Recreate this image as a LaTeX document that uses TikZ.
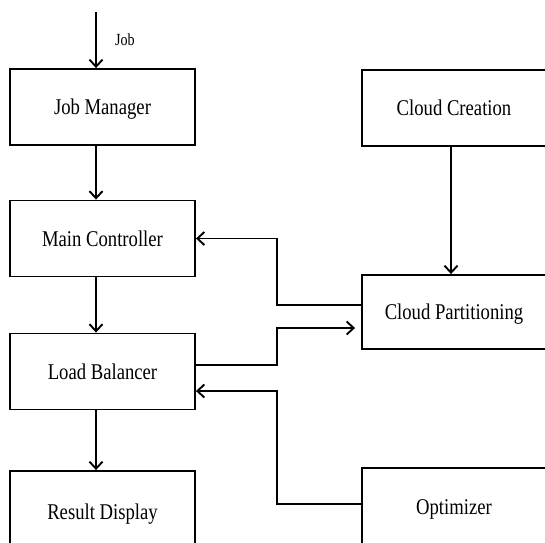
\documentclass[tikz,border=0pt]{standalone}
\usepackage{fontspec}
\setmainfont{Liberation Serif}[FakeStretch=0.83]
\usetikzlibrary{arrows.meta}
\tikzset{
  block/.style = {draw, line width=1.9pt, rectangle, minimum height = 76pt, minimum width = 185pt,
                  text depth=0pt, font=\fontsize{22.5}{27}\selectfont},
  wire/.style  = {line width=1.9pt},
  arr/.style   = {wire, -{Straight Barb[length=7pt,width=13pt,line width=1.9pt]}}
}
\begin{document}
\begin{tikzpicture}[x=1pt, y=-1pt]
\useasboundingbox (0,0) rectangle (545,542);

% Left column
\draw node [block] at (102.5,107) (jm) {Job Manager};
\draw node [block, below of=jm, node distance=131.5pt] (mc) {Main Controller};
\draw node [block, below of=mc, node distance=133pt] (lb) {Load Balancer};
\draw node [block, minimum height=81pt, below of=lb, node distance=140pt] (rd) {Result Display};

% Right column
\draw node [block, minimum width=184pt] at (454,108) (cc) {Cloud Creation};
\draw node [block, minimum width=184pt, minimum height=74pt, below of=cc, node distance=204pt] (cp) {Cloud Partitioning};
\draw node [block, minimum width=184pt, minimum height=79pt, below of=cp, node distance=195.5pt] (op) {Optimizer};

% Input
\coordinate (jobin) at (96,12);
\node [font=\fontsize{17}{20}\selectfont] at (125,40) (joblabel) {Job};

% Connections
\draw[arr] (jobin) -- (jobin |- jm.north);
\draw[arr] (jm.south -| jobin) -- (mc.north -| jobin);
\draw[arr] (mc.south -| jobin) -- (lb.north -| jobin);
\draw[arr] (lb.south -| jobin) -- (rd.north -| jobin);

\draw[arr] (cc.south -| 451,0) -- (cp.north -| 451,0);

\draw[arr] ([yshift=7pt]cp.west) -- ++(-84,0) |- (mc.east);
\draw[arr] ([yshift=6.5pt]lb.east) -- ++(81,0) |- ([xshift=-6pt,yshift=-16pt]cp.west);
\draw[arr] ([yshift=3.5pt]op.west) -- ++(-84,0) |- ([yshift=-19.5pt]lb.east);

\end{tikzpicture}
\end{document}
